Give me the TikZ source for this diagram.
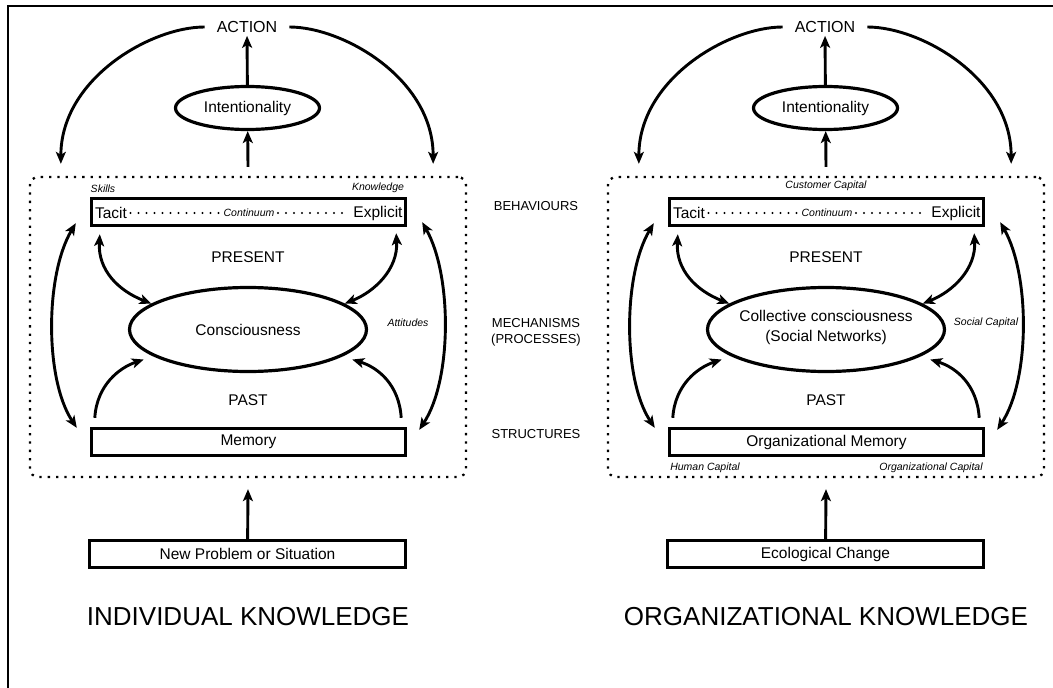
\documentclass[tikz,border=0pt]{standalone}
\usepackage{fontspec}
\setmainfont{Liberation Sans}
\usetikzlibrary{arrows.meta,shapes.geometric}

\tikzset{
  arr/.style={line width=2.9pt, -{Stealth[length=12pt,width=10pt,inset=3pt]}},
  dbl/.style={line width=2.9pt, {Stealth[length=12pt,width=10pt,inset=3pt]}-{Stealth[length=12pt,width=10pt,inset=3pt]}},
  kbox/.style={draw, line width=3.4pt, inner sep=0pt, font=\fontsize{15.5}{18}\selectfont},
  oval/.style={draw, ellipse, line width=3.2pt, inner sep=0pt, font=\fontsize{15.5}{18}\selectfont},
  dotframe/.style={draw, line width=2.3pt, dash pattern=on 2.3pt off 6pt, rounded corners=8pt, inner sep=0pt},
  dotline/.style={line width=2.3pt, line cap=round, dash pattern=on 0pt off 8pt},
  act/.style={font=\fontsize{16}{19}\selectfont, inner xsep=12pt, inner ysep=3pt},
  big/.style={font=\fontsize{15.5}{20}\selectfont, align=center},
  note/.style={font=\fontsize{10.5}{12}\selectfont\itshape},
  side/.style={font=\fontsize{13}{16}\selectfont, align=center},
  head/.style={font=\fontsize{26}{30}\selectfont}
}

\begin{document}
\begin{tikzpicture}[x=1pt, y=-1pt]
\useasboundingbox (0,0) rectangle (1053,688);
\draw[line width=2pt] (8,688) -- (8,6) -- (1053,6);

\node[act] (act1) at (247,27) {ACTION}; \node[oval, minimum width=144pt, minimum height=43pt] (int1) at (247.5,108) {Intentionality};
\node[dotframe, minimum width=436pt, minimum height=300pt] (fr1) at (248,327) {};
\node[kbox, minimum width=314pt, minimum height=27pt] (tac1) at (248.5,212) {};
\node[big] (tacit1) at (111,213) {Tacit}; \node[note] (cont1) at (249,213) {Continuum}; \node[big] (explicit1) at (378,213) {Explicit};
\node[note] (skills1) at (103,189) {Skills}; \node[note] (know1) at (378,188) {Knowledge};
\node[big] (pres1) at (248,257) {PRESENT}; \node[oval, minimum width=237pt, minimum height=84pt] (con1) at (248,329.5) {Consciousness};
\node[note] (att1) at (408,323) {Attitudes}; \node[big] (past1) at (248,400) {PAST};
\node[kbox, minimum width=314pt, minimum height=27pt] (mem1) at (248.5,442) {Memory};
\node[kbox, minimum width=316pt, minimum height=27pt] (inp1) at (247.5,554) {New Problem or Situation};
\node[head] (title1) at (248,617) {INDIVIDUAL KNOWLEDGE};

\node[side] (beh) at (536,206) {BEHAVIOURS}; \node[side] (mech) at (536,332) {MECHANISMS\\(PROCESSES)}; \node[side] (struc) at (536,434) {STRUCTURES};

\node[act] (act2) at (825,27) {ACTION}; \node[oval, minimum width=144pt, minimum height=43pt] (int2) at (825.5,108) {Intentionality};
\node[dotframe, minimum width=436pt, minimum height=300pt] (fr2) at (826,327) {};
\node[kbox, minimum width=314pt, minimum height=27pt] (tac2) at (826.5,212) {};
\node[big] (tacit2) at (689,213) {Tacit}; \node[note] (cont2) at (827,213) {Continuum}; \node[big] (explicit2) at (956,213) {Explicit};
\node[note] (cust2) at (826,186) {Customer Capital};
\node[big] (pres2) at (826,257) {PRESENT}; \node[oval, minimum width=237pt, minimum height=84pt] (con2) at (826,329.5) {};
\node[big] (contxt2) at (826,327) {Collective consciousness\\(Social Networks)};
\node[note] (soc2) at (986,323) {Social Capital}; \node[big] (past2) at (826,400) {PAST};
\node[kbox, minimum width=314pt, minimum height=27pt] (mem2) at (826.5,442) {Organizational Memory};
\node[note] (hum2) at (705,468) {Human Capital}; \node[note] (orgc2) at (931,468) {Organizational Capital};
\node[kbox, minimum width=316pt, minimum height=27pt] (inp2) at (825.5,554) {Ecological Change};
\node[head] (title2) at (826,617) {ORGANIZATIONAL KNOWLEDGE};

\draw[dotline] (tacit1) -- (cont1); \draw[dotline] (cont1) -- (explicit1);
\draw[arr] (int1) -- (act1); \draw[arr] ([yshift=9pt]fr1.north) -- (int1); \draw[arr] (inp1) -- ([yshift=-11pt]fr1.south);
\draw[arr] (act1.west) .. controls +(-54,0) and +(0,-85) .. ([shift={(32,-12)}]fr1.north west);
\draw[arr] (act1.east) .. controls +(54,0) and +(0,-85) .. ([shift={(-34,-12)}]fr1.north east);
\draw[dbl] ([shift={(-14,-4)}]tac1.south west) .. controls +(-31,52) and +(-32,-48) .. ([shift={(-13,1)}]mem1.north west);
\draw[dbl] ([shift={(15,-5)}]tac1.south east) .. controls +(30,53) and +(33,-50) .. ([shift={(12,3)}]mem1.north east);
\draw[dbl] ([shift={(10,7)}]tac1.south west) .. controls +(-2,36) and +(-33,-13) .. (con1.165);
\draw[dbl] ([shift={(-11,6)}]tac1.south east) .. controls +(2,36) and +(30,-12) .. (con1.15);
\draw[arr] ([shift={(5,-9)}]mem1.north west) .. controls +(2,-33) and +(-24,8) .. ([shift={(-10,3)}]con1.196);
\draw[arr] ([shift={(-6,-9)}]mem1.north east) .. controls +(-2,-33) and +(26,8) .. ([shift={(10,3)}]con1.344);

\draw[dotline] (tacit2) -- (cont2); \draw[dotline] (cont2) -- (explicit2);
\draw[arr] (int2) -- (act2); \draw[arr] ([yshift=9pt]fr2.north) -- (int2); \draw[arr] (inp2) -- ([yshift=-11pt]fr2.south);
\draw[arr] (act2.west) .. controls +(-54,0) and +(0,-85) .. ([shift={(32,-12)}]fr2.north west);
\draw[arr] (act2.east) .. controls +(54,0) and +(0,-85) .. ([shift={(-34,-12)}]fr2.north east);
\draw[dbl] ([shift={(-14,-4)}]tac2.south west) .. controls +(-31,52) and +(-32,-48) .. ([shift={(-13,1)}]mem2.north west);
\draw[dbl] ([shift={(15,-5)}]tac2.south east) .. controls +(30,53) and +(33,-50) .. ([shift={(12,3)}]mem2.north east);
\draw[dbl] ([shift={(10,7)}]tac2.south west) .. controls +(-2,36) and +(-33,-13) .. (con2.165);
\draw[dbl] ([shift={(-11,6)}]tac2.south east) .. controls +(2,36) and +(30,-12) .. (con2.15);
\draw[arr] ([shift={(5,-9)}]mem2.north west) .. controls +(2,-33) and +(-24,8) .. ([shift={(-10,3)}]con2.196);
\draw[arr] ([shift={(-6,-9)}]mem2.north east) .. controls +(-2,-33) and +(26,8) .. ([shift={(10,3)}]con2.344);
\end{tikzpicture}
\end{document}
